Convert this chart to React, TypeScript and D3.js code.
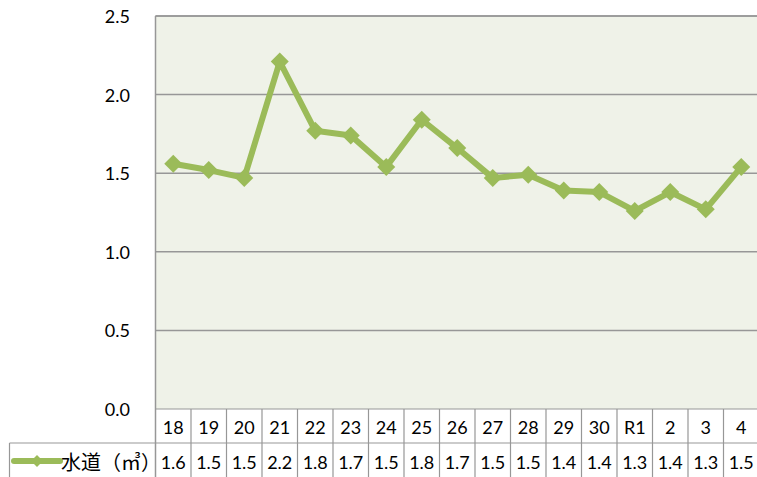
import React from "react";
import * as d3 from "d3";

// fiscal years (Heisei 18..30, Reiwa 1..4)
const categories = ["18", "19", "20", "21", "22", "23", "24", "25", "26", "27", "28", "29", "30", "R1", "2", "3", "4"];
const water = [1.56, 1.52, 1.47, 2.21, 1.77, 1.74, 1.54, 1.84, 1.66, 1.47, 1.49, 1.39, 1.38, 1.26, 1.38, 1.27, 1.54];
const yTicks = [0, 0.5, 1.0, 1.5, 2.0, 2.5];
const seriesName = "水道（㎥）";

const WIDTH = 757;
const HEIGHT = 477;
const PLOT = { left: 155.5, right: 759, top: 16, bottom: 409 };
const ROW1 = 443; // bottom of category row
const TABLE_LEFT = 9.5;

const GREEN = "#9BBB59";
const GRID = "#979797";
const FONT = "Lato, 'Noto Sans CJK JP', sans-serif";

export default function App() {
  const xScale = d3
    .scaleBand()
    .domain(categories)
    .range([PLOT.left, PLOT.right]);

  const yScale = d3.scaleLinear().domain([0, 2.5]).range([PLOT.bottom, PLOT.top]);

  const fmt = d3.format(".1f");

  const line = d3
    .line<number>()
    .x((_, i) => (xScale(categories[i]) ?? 0) + xScale.bandwidth() / 2)
    .y((d) => yScale(d));

  const diamond = (cx: number, cy: number, r: number) =>
    `M${cx},${cy - r}L${cx + r},${cy}L${cx},${cy + r}L${cx - r},${cy}Z`;

  const grid = yTicks.map((t, i) => (
    <g key={i}>
      {t > 0 && (
        <line x1={PLOT.left} x2={WIDTH} y1={yScale(t)} y2={yScale(t)} stroke={GRID} strokeWidth={1.5} />
      )}
      <text x={130} y={yScale(t)} textAnchor="end" dominantBaseline="central" fontSize={18} fill="#000">
        {t.toFixed(1)}
      </text>
    </g>
  ));

  const table = categories.map((c, i) => {
    const x0 = xScale(c) ?? 0;
    const cx = x0 + xScale.bandwidth() / 2;
    return (
      <g key={c}>
        <line x1={x0 + xScale.bandwidth()} x2={x0 + xScale.bandwidth()} y1={PLOT.bottom} y2={HEIGHT} stroke={GRID} strokeWidth={1.2} />
        <text x={cx} y={(PLOT.bottom + ROW1) / 2 + 1} textAnchor="middle" dominantBaseline="central" fontSize={18}>
          {c}
        </text>
        <text x={cx} y={(ROW1 + HEIGHT) / 2 + 2} textAnchor="middle" dominantBaseline="central" fontSize={18}>
          {fmt(water[i])}
        </text>
      </g>
    );
  });

  return (
    <div style={{ position: "absolute", left: 0, top: 0 }}>
      <svg width={WIDTH} height={HEIGHT} style={{ display: "block", fontFamily: FONT }}>
        <rect x={PLOT.left} y={PLOT.top} width={PLOT.right - PLOT.left} height={PLOT.bottom - PLOT.top} fill="#EFF2E8" />
        {grid}
        <line x1={PLOT.left} x2={WIDTH} y1={PLOT.top} y2={PLOT.top} stroke={GRID} strokeWidth={1.5} />
        <line x1={PLOT.left} x2={PLOT.left} y1={PLOT.top} y2={HEIGHT} stroke={GRID} strokeWidth={1.5} />

        {/* data table */}
        <line x1={PLOT.left} x2={WIDTH} y1={PLOT.bottom} y2={PLOT.bottom} stroke={GRID} strokeWidth={1.2} />
        <line x1={TABLE_LEFT} x2={WIDTH} y1={ROW1} y2={ROW1} stroke={GRID} strokeWidth={1.2} />
        <line x1={TABLE_LEFT} x2={TABLE_LEFT} y1={ROW1} y2={HEIGHT} stroke={GRID} strokeWidth={1.2} />
        {table}

        {/* legend key */}
        <line x1={14} x2={60} y1={461} y2={461} stroke={GREEN} strokeWidth={6} strokeLinecap="round" />
        <path d={diamond(37, 461, 6)} fill={GREEN} />
        <text x={61} y={461} dominantBaseline="central" fontSize={20} fontFamily="'Noto Sans CJK JP', sans-serif">
          {seriesName}
        </text>

        {/* series */}
        <path d={line(water) ?? ""} fill="none" stroke={GREEN} strokeWidth={6} strokeLinejoin="round" />
        {water.map((v, i) => (
          <path
            key={i}
            d={diamond((xScale(categories[i]) ?? 0) + xScale.bandwidth() / 2, yScale(v), 9)}
            fill={GREEN}
          />
        ))}
      </svg>
    </div>
  );
}
